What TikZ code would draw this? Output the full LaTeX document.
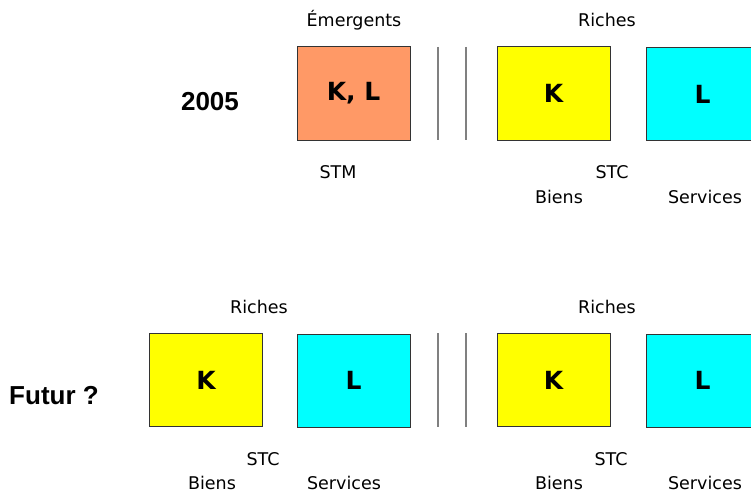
\documentclass[tikz,border=0pt]{standalone}
\usepackage{fontspec}
\setmainfont{DejaVu Sans}
\newfontfamily\headfont{Liberation Sans}
\begin{document}
\begin{tikzpicture}[x=1pt,y=-1pt,
  box/.style={draw=black!80,line width=1pt,minimum width=113pt,minimum height=93pt,inner sep=0pt,
    font=\fontsize{25}{27}\selectfont\bfseries},
  lbl/.style={anchor=base,inner sep=0pt,font=\fontsize{17.5}{19}\selectfont},
  head/.style={anchor=base,inner sep=0pt,font=\headfont\fontsize{26}{29}\selectfont\bfseries},
  sep/.style={draw=black!50,line width=1.5pt}]
\useasboundingbox (0,0) rectangle (751,495);
\clip (0,0) rectangle (751,495);
\definecolor{orng}{RGB}{255,153,102}
\definecolor{yel}{RGB}{255,255,0}
\definecolor{cya}{RGB}{0,255,255}
% row 2005
\node[head] (y2005) at (210,110) {2005};
\node[box,fill=orng] (kl) at (353.5,93.5) {K, L};
\node[box,fill=yel] (k1) at (553.5,93.5) {K};
\node[box,fill=cya] (l1) at (702.5,94) {L};
\draw[sep] (438,47) -- (438,140);
\draw[sep] (466,47) -- (466,140);
\node[lbl] (em) at (354,27) {Émergents};
\node[lbl] (ri1) at (607,27) {Riches};
\node[lbl] (stm) at (338,178) {STM};
\node[lbl] (stc1) at (612,178) {STC};
\node[lbl] (bi1) at (559,203) {Biens};
\node[lbl] (se1) at (705,203) {Services};
% row Futur
\node[head] (fut) at (54,404) {Futur ?};
\node[box,fill=yel] (k2) at (206,380) {K};
\node[box,fill=cya] (l2) at (353.5,380.5) {L};
\node[box,fill=yel] (k3) at (553.5,380) {K};
\node[box,fill=cya] (l3) at (702.5,380.5) {L};
\draw[sep] (438,333) -- (438,427);
\draw[sep] (466,333) -- (466,427);
\node[lbl] (ri2) at (259,313) {Riches};
\node[lbl] (ri3) at (607,313) {Riches};
\node[lbl] (stc2) at (263,465) {STC};
\node[lbl] (stc3) at (611,465) {STC};
\node[lbl] (bi2) at (212,489) {Biens};
\node[lbl] (se2) at (344,489) {Services};
\node[lbl] (bi3) at (559,489) {Biens};
\node[lbl] (se3) at (705,489) {Services};
\end{tikzpicture}
\end{document}
